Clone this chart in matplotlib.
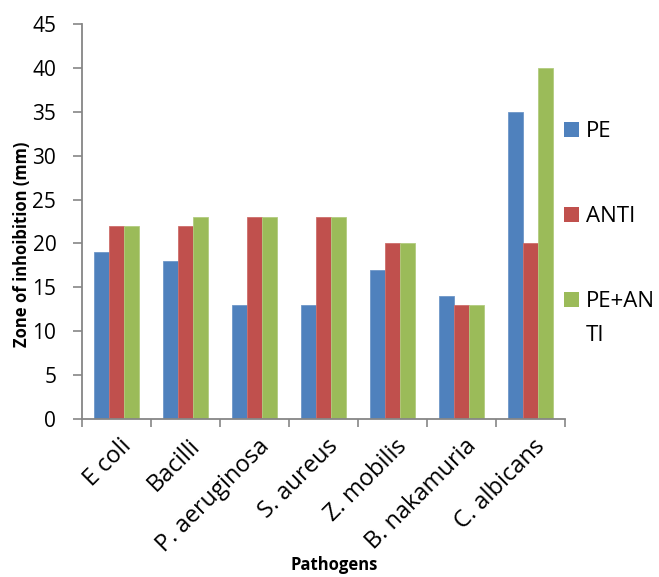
import matplotlib
matplotlib.use("Agg")
import matplotlib.pyplot as plt
from matplotlib.patches import Rectangle
import numpy as np

categories = ["E coli", "Bacilli", "P. aeruginosa", "S. aureus", "Z. mobilis", "B. nakamuria", "C. albicans"]
series_names = ["PE", "ANTI", "PE+AN\nTI"]
pe = [19, 18, 13, 13, 17, 14, 35]
anti = [22, 22, 23, 23, 20, 13, 20]
pe_anti = [22, 23, 23, 23, 20, 13, 40]
y_ticks = [0, 5, 10, 15, 20, 25, 30, 35, 40, 45]

colors = ["#4F81BD", "#C0504D", "#9BBB59"]
edge = ["#6F97C8", "#CE6E6B", "#B2CC7F"]

plt.rcParams['font.family'] = ['Open Sans', 'DejaVu Sans']

W, H = 659, 577
fig = plt.figure(figsize=(W/100, H/100), dpi=100)
ax = fig.add_axes([82/W, 1-419/H, (565-82)/W, (419-24)/H])

x = np.arange(len(categories))
w = 0.217
for i, vals in enumerate([pe, anti, pe_anti]):
    ax.bar(x + (i-1)*w, vals, width=w, color=colors[i], label=series_names[i],
           edgecolor=edge[i], linewidth=0.6)

ax.set_xlim(-0.5, len(categories)-0.5)
ax.set_ylim(0, 45)
ax.set_yticks(y_ticks)
ax.set_yticklabels([str(v) for v in y_ticks], fontsize=15)

ax.set_xticks(x + 0.04)
ax.set_xticklabels(categories, rotation=45, ha='right', rotation_mode='anchor', fontsize=17)
ax.tick_params(axis='x', length=0, pad=11)
ax.set_xticks(np.arange(-0.5, len(categories)), minor=True)
ax.tick_params(axis='x', which='minor', length=5.5, color='#868686', width=1.2)
ax.tick_params(axis='y', length=6.5, color='#868686', width=1.2, pad=12)

for s in ['top', 'right']:
    ax.spines[s].set_visible(False)
for s in ['left', 'bottom']:
    ax.spines[s].set_color('#868686')
    ax.spines[s].set_linewidth(1.3)

fig.text(22/W, 1-244/H, "Zone of inhoibition (mm)", rotation=90, ha='center', va='center',
         fontsize=12, fontweight='bold')
fig.text(334/W, 1-565/H, "Pathogens", ha='center', va='center',
         fontsize=12, fontweight='bold')

# legend (manual, Excel style)
leg_y = [129, 214, 299]
line_gap = 34
for i, name in enumerate(series_names):
    yc = leg_y[i]
    fig.add_artist(Rectangle((564/W, 1-(yc+7.5)/H), 15/W, 15/H, transform=fig.transFigure,
                             facecolor=colors[i], edgecolor='none'))
    for k, line in enumerate(name.split("\n")):
        fig.text(586/W, 1-(yc + 8 + k*line_gap)/H, line, ha='left', va='baseline', fontsize=16)

fig.savefig("out.png", dpi=100)
